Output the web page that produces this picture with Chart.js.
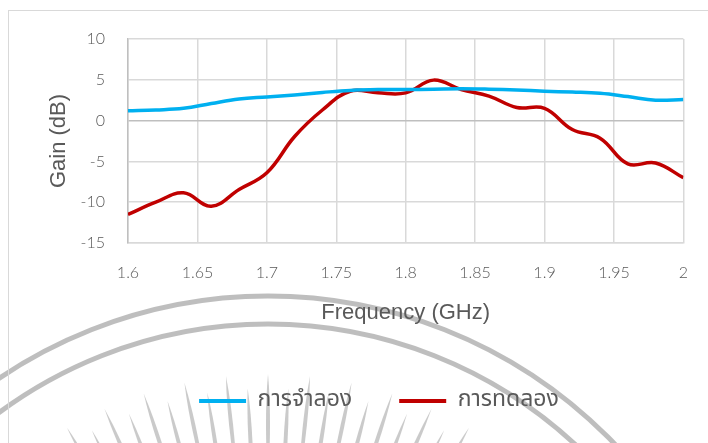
<!DOCTYPE html>
<html>
<head>
<meta charset="utf-8">
<script src="https://cdn.jsdelivr.net/npm/chart.js@4.4.0/dist/chart.umd.min.js"></script>
<style>
  html, body { margin: 0; padding: 0; background: #fff; }
  #wrap { width: 708px; height: 443px; }
</style>
</head>
<body>
<div id="wrap"><canvas id="gainChart" width="708" height="443"></canvas></div>
<script>
// Frequency sweep (GHz) and gain (dB) for both curves
const frequencies = [1.60, 1.62, 1.64, 1.66, 1.68, 1.70, 1.72, 1.74, 1.76, 1.78, 1.80,
                     1.82, 1.84, 1.86, 1.88, 1.90, 1.92, 1.94, 1.96, 1.98, 2.00];
const simulatedGain = [1.2, 1.3, 1.5, 2.1, 2.65, 2.9, 3.15, 3.45, 3.7, 3.8, 3.8,
                       3.85, 3.9, 3.85, 3.75, 3.6, 3.5, 3.35, 2.95, 2.5, 2.6];
const measuredGain = [-11.5, -10.0, -8.85, -10.5, -8.45, -6.4, -1.95, 1.3, 3.6, 3.4, 3.4,
                      4.96, 3.8, 3.0, 1.6, 1.5, -1.1, -2.15, -5.3, -5.2, -7.0];
const seriesNames = ['การจำลอง', 'การทดลอง'];
const xTickLabels = ['1.6', '1.65', '1.7', '1.75', '1.8', '1.85', '1.9', '1.95', '2'];
const yTickLabels = ['-15', '-10', '-5', '0', '5', '10'];

const textGray = '#595959';
const tickFont = { family: 'Lato, "Open Sans", sans-serif', size: 16, weight: '300' };
const thaiFont = '"Noto Sans Thai", "Noto Sans", "Liberation Sans", sans-serif';

// white page, outer frame and the faint seal behind the chart
const backdrop = {
    id: 'backdrop',
    beforeDraw(chart) {
        const ctx = chart.ctx;
        ctx.save();
        ctx.fillStyle = '#fff';
        ctx.fillRect(0, 0, chart.width, chart.height);

        const cx = 268, cy = 776;
        ctx.strokeStyle = 'rgba(150,150,150,0.62)';
        ctx.lineWidth = 5;
        [480, 452].forEach(r => {
            ctx.beginPath();
            ctx.arc(cx, cy, r, Math.PI, 2 * Math.PI);
            ctx.stroke();
        });

        // spindle-shaped rays of the sunburst
        ctx.fillStyle = 'rgba(150,150,150,0.5)';
        for (let deg = -42; deg <= 42; deg += 3) {
            const a = (deg - 90) * Math.PI / 180;
            const tip = (Math.round(deg / 3) % 2 === 0) ? 402 : 388;
            const tail = tip - 110, mid = tip - 45;
            const ux = Math.cos(a), uy = Math.sin(a);
            const nx = -uy, ny = ux;
            ctx.beginPath();
            ctx.moveTo(cx + ux * tip, cy + uy * tip);
            ctx.quadraticCurveTo(cx + ux * mid + nx * 4, cy + uy * mid + ny * 4, cx + ux * tail, cy + uy * tail);
            ctx.quadraticCurveTo(cx + ux * mid - nx * 4, cy + uy * mid - ny * 4, cx + ux * tip, cy + uy * tip);
            ctx.closePath();
            ctx.fill();
        }

        ctx.strokeStyle = '#d9d9d9';
        ctx.lineWidth = 1;
        ctx.strokeRect(8.5, 10.5, 760, 500);
        ctx.restore();
    }
};

// nudge the legend row to the right
const legendShift = {
    id: 'legendShift',
    afterLayout(chart) {
        chart.legend.left += 37;
        chart.legend.right += 37;
    }
};

new Chart(document.getElementById('gainChart'), {
    type: 'line',
    data: {
        datasets: [{
            label: seriesNames[0],
            data: frequencies.map((f, i) => ({ x: f, y: simulatedGain[i] })),
            borderColor: '#00b0f0',
            backgroundColor: '#00b0f0',
            borderWidth: 3.5,
            tension: 0.4,
            pointRadius: 0
        }, {
            label: seriesNames[1],
            data: frequencies.map((f, i) => ({ x: f, y: measuredGain[i] })),
            borderColor: '#c00000',
            backgroundColor: '#c00000',
            borderWidth: 3.5,
            tension: 0.4,
            pointRadius: 0
        }]
    },
    options: {
        responsive: false,
        animation: false,
        devicePixelRatio: 1,
        layout: { padding: { left: 0, right: 24, top: 39, bottom: 20.5 } },
        plugins: {
            tooltip: { enabled: false },
            legend: {
                position: 'bottom',
                labels: {
                    color: textGray,
                    font: { family: thaiFont, size: 23 },
                    boxWidth: 47,
                    boxHeight: 4,
                    padding: 47,
                    generateLabels(chart) {
                        return chart.data.datasets.map((ds, i) => ({
                            text: ds.label,
                            fillStyle: ds.borderColor,
                            strokeStyle: ds.borderColor,
                            lineWidth: 0,
                            fontColor: textGray,
                            datasetIndex: i
                        }));
                    }
                }
            }
        },
        scales: {
            x: {
                type: 'linear',
                min: 1.6,
                max: 2,
                afterFit(scale) { scale.height = 99.5; },
                ticks: {
                    stepSize: 0.05,
                    color: textGray,
                    font: tickFont,
                    padding: 20,
                    maxRotation: 0,
                    callback: (v, i) => xTickLabels[i]
                },
                grid: { color: '#d9d9d9', lineWidth: 1.5, drawTicks: false },
                border: { color: '#d9d9d9', width: 1.5 },
                title: {
                    display: true,
                    text: 'Frequency (GHz)',
                    color: textGray,
                    font: { family: '"Liberation Sans", Arial, sans-serif', size: 22 },
                    padding: { top: 0, bottom: 16.5 }
                }
            },
            y: {
                min: -15,
                max: 10,
                afterFit(scale) { scale.width = 128; },
                ticks: {
                    stepSize: 5,
                    color: textGray,
                    font: tickFont,
                    padding: 23,
                    callback: (v, i) => yTickLabels[i]
                },
                grid: {
                    color: c => (c.tick && c.tick.value === 0) ? '#bfbfbf' : '#d9d9d9',
                    lineWidth: 1.5,
                    drawTicks: false
                },
                border: { color: '#bfbfbf', width: 1.5 },
                title: {
                    display: true,
                    text: 'Gain (dB)',
                    color: textGray,
                    font: { family: '"Liberation Sans", Arial, sans-serif', size: 22 },
                    padding: { top: 46, bottom: 0 }
                }
            }
        }
    },
    plugins: [backdrop, legendShift]
});
</script>
</body>
</html>
